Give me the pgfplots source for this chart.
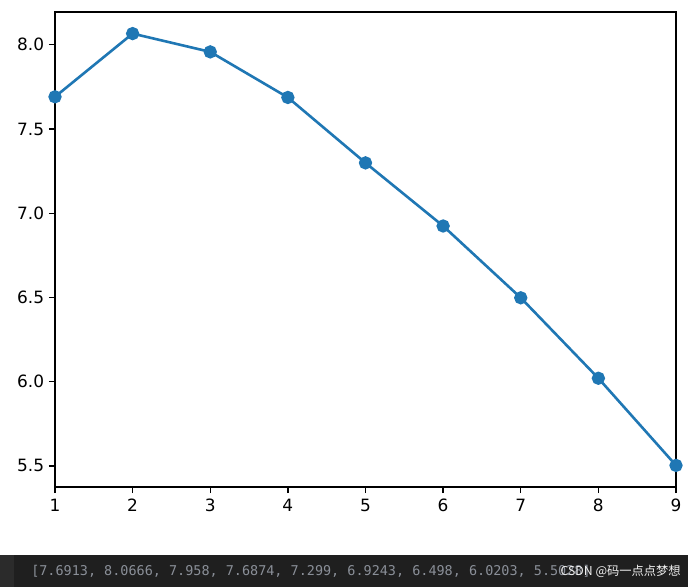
\documentclass[border=0pt]{standalone}
\usepackage{pgfplots}
\pgfplotsset{compat=1.18}
\usepackage{fontspec}
\setmainfont{DejaVu Sans}
\newfontfamily\monofont{DejaVu Sans Mono}
\newfontfamily\cjk{Noto Sans CJK SC}
\definecolor{mplblue}{HTML}{1F77B4}
\definecolor{termbg}{HTML}{1F1F1F}
\definecolor{termside}{HTML}{2B2B2B}
\definecolor{termtext}{HTML}{8A8F98}

\begin{document}
\begin{tikzpicture}[x=0.75pt,y=0.75pt]
% whole canvas, 688 x 587 px
\fill[white] (0,0) rectangle (688,587);
\fill[termbg] (0,0) rectangle (688,32);
\fill[termside] (0,0) rectangle (14,32);
\node[anchor=west, text=termtext, font=\monofont\fontsize{10.1}{12}\selectfont, inner sep=0pt] at (31,16)
  {[7.6913, 8.0666, 7.958, 7.6874, 7.299, 6.9243, 6.498, 6.0203, 5.5028]};
\node[anchor=east, text=white!88!gray, font=\cjk\fontsize{9.2}{10}\selectfont, inner sep=0pt] at (681,16)
  {CSDN @码一点点梦想};

\begin{axis}[
  at={(41.25pt,75pt)}, anchor=south west,
  scale only axis,
  width=465.75pt, height=356.25pt,
  xmin=1, xmax=9,
  ymin=5.3746, ymax=8.1948,
  xtick={1,2,...,9},
  ytick={5.5,6.0,6.5,7.0,7.5,8.0},
  yticklabel style={/pgf/number format/.cd, fixed, fixed zerofill, precision=1},
  /pgf/number format/assume math mode=true,
  tick align=outside,
  tick pos=left,
  major tick length=4.6pt,
  tick style={black, line width=1pt},
  axis line style={line width=1pt},
  ticklabel style={font=\fontsize{12.7}{14}\selectfont},
  xticklabel style={yshift=-1pt},
  axis background/.style={fill=white},
]
\addplot[color=mplblue, line width=1.95pt, mark=*, mark size=4pt,
  mark options={solid, fill=mplblue, draw=none}]
  coordinates {(1,7.6913)(2,8.0666)(3,7.958)(4,7.6874)(5,7.299)(6,6.9243)(7,6.498)(8,6.0203)(9,5.5028)};
\end{axis}
\end{tikzpicture}
\end{document}
